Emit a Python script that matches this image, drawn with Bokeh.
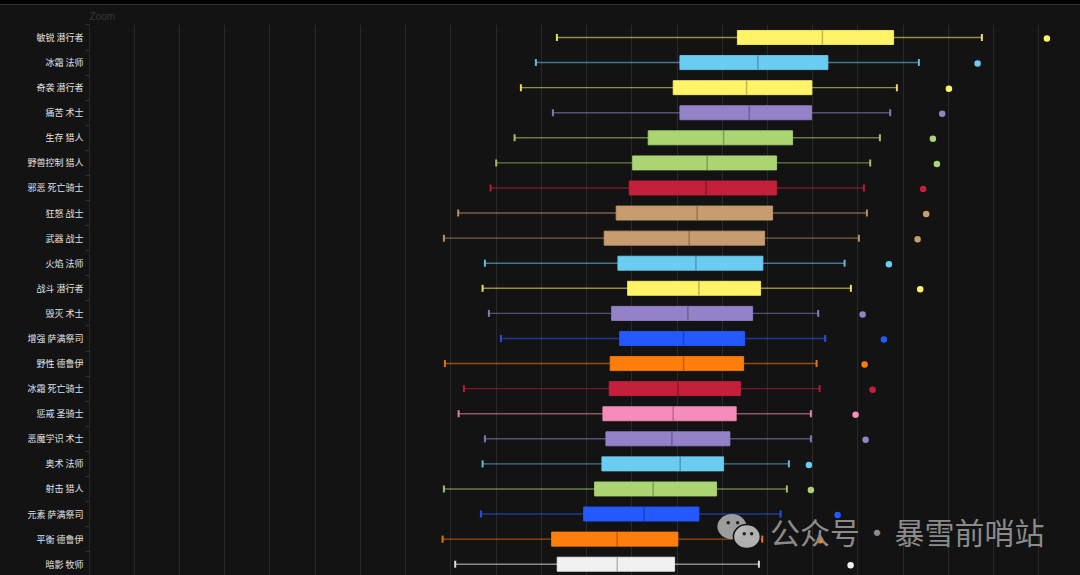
from bokeh.embed import file_html
from bokeh.resources import INLINE
from bokeh.plotting import figure
from bokeh.models import ColumnDataSource, FixedTicker, Label, Range1d
import numpy as np

specs = ["敏锐 潜行者", "冰霜 法师", "奇袭 潜行者", "痛苦 术士", "生存 猎人", "野兽控制 猎人", "邪恶 死亡骑士", "狂怒 战士",
         "武器 战士", "火焰 法师", "战斗 潜行者", "毁灭 术士", "增强 萨满祭司", "野性 德鲁伊", "冰霜 死亡骑士", "惩戒 圣骑士",
         "恶魔学识 术士", "奥术 法师", "射击 猎人", "元素 萨满祭司", "平衡 德鲁伊", "暗影 牧师"]
low = [468, 447, 432, 464, 425.7, 407.3, 401.7, 369.3, 355, 396, 393.7, 400, 412, 356, 375, 369.7, 396, 393.7, 355, 392, 353.7, 366.3]
q1 = [648.5, 591, 584.3, 591, 559.3, 543.7, 540.3, 527.3, 515.3, 529, 538.7, 522.7, 530.7, 521.3, 520.3, 514, 517, 513, 505.7, 494.7, 462.7, 468.3]
median = [733.5, 669, 657.7, 660.3, 634.7, 618.3, 617.3, 608.3, 600.3, 607, 610, 599, 594.7, 594.7, 589, 584.3, 583, 591.3, 564.3, 555.3, 528.3, 528.3]
q3 = [804.7, 739, 723, 722.7, 703.7, 687.7, 687.7, 683.7, 675.7, 674, 671.7, 663.7, 655.7, 654.7, 651.7, 647.3, 641, 634.7, 627.7, 610, 589, 585.7]
high = [893, 830, 808, 801.3, 791, 781.3, 775, 778, 770, 755.7, 762, 729.3, 736.3, 727.7, 730.7, 722, 722, 700, 698, 691.7, 673.3, 670]
outlier = [958, 888.7, 860, 853.3, 844, 848, 834.3, 837.3, 828.7, 800, 831.3, 773.7, 795, 775.7, 783.7, 766.7, 776.7, 720, 722, 748.7, 731.3, 761.7]
colors = ["#FFF468", "#69CCF0", "#FFF468", "#9482C9", "#ABD473", "#ABD473", "#C41F3B", "#C79C6E", "#C79C6E", "#69CCF0", "#FFF468",
          "#9482C9", "#2459FF", "#FF7D0A", "#C41F3B", "#F58CBA", "#9482C9", "#69CCF0", "#ABD473", "#2459FF", "#FF7D0A", "#F0F0F0"]
tick_step = 45.24
n_gridlines = 22
icon_bubble_x = [643, 658]
icon_bubble_y = [19.5, 19.9]
icon_eye_x = [639.3, 648.7, 655.3, 662.7]
icon_eye_y = [19.35, 19.35, 19.79, 19.79]

rows = np.arange(len(specs), dtype=float)
src = ColumnDataSource(dict(row=rows, low=low, q1=q1, median=median, q3=q3, high=high, outlier=outlier, color=colors,
                            cap0=rows - 0.14, cap1=rows + 0.14, box0=rows - 0.28, box1=rows + 0.28, dot=rows + 0.04))

p = figure(width=1080, height=575, output_backend="svg", toolbar_location=None, title="Zoom",
           x_range=Range1d(0.6, 991.6), y_range=Range1d(21.45, -0.518),
           min_border_left=89, min_border_right=0, min_border_top=24, min_border_bottom=0,
           background_fill_color="#131313", border_fill_color=None, outline_line_color=None)
p.outline_line_alpha = 0
p.outline_line_width = 0
p.styles = {"position": "fixed", "left": "0", "top": "0",
            "background": "linear-gradient(#000000 0 4px, #333333 4px 5px, #131313 5px)"}
p.title.text_font = "Liberation Sans"
p.title.text_font_size = "10px"
p.title.text_font_style = "normal"
p.title.text_color = "#363636"
p.title.standoff = 5

p.xaxis.visible = False
p.xgrid.ticker = FixedTicker(ticks=[tick_step * k for k in range(n_gridlines)])
p.xgrid.grid_line_color = "#292929"
p.xgrid.grid_line_width = 1
p.ygrid.visible = False

ax = p.yaxis[0]
ax.ticker = FixedTicker(ticks=list(rows), minor_ticks=list(rows - 0.5) + [rows[-1] + 0.5])
ax.major_label_overrides = {float(i): s for i, s in enumerate(specs)}
ax.major_tick_line_color = None
ax.major_tick_out = 0
ax.major_tick_in = 0
ax.minor_tick_line_color = "#303030"
ax.minor_tick_out = 4
ax.minor_tick_in = 0
ax.axis_line_color = "#292929"
ax.major_label_standoff = 2
ax.major_label_text_color = "#e2e2e2"
ax.major_label_text_font = "Noto Sans CJK SC"
ax.major_label_text_font_size = "9px"

p.segment(x0="low", x1="q1", y0="row", y1="row", source=src, line_color="color", line_alpha=0.55, line_width=1.4)
p.segment(x0="q3", x1="high", y0="row", y1="row", source=src, line_color="color", line_alpha=0.55, line_width=1.4)
p.segment(x0="low", x1="low", y0="cap0", y1="cap1", source=src, line_color="color", line_alpha=0.9, line_width=2)
p.segment(x0="high", x1="high", y0="cap0", y1="cap1", source=src, line_color="color", line_alpha=0.9, line_width=2)
p.quad(left="q1", right="q3", bottom="box0", top="box1", source=src, fill_color="color", line_color="color", line_alpha=0.85, line_width=1)
p.segment(x0="median", x1="median", y0="box0", y1="box1", source=src, line_color="#000000", line_alpha=0.25, line_width=1.5)
p.scatter(x="outlier", y="dot", source=src, size=6.5, fill_color="color", line_color=None)

# watermark
p.ellipse(x=icon_bubble_x[:1], y=icon_bubble_y[:1], width=29, height=25, width_units="screen", height_units="screen",
          fill_color="#a8a8a8", fill_alpha=0.92, line_color=None)
p.ellipse(x=icon_bubble_x[1:], y=icon_bubble_y[1:], width=27, height=24, width_units="screen", height_units="screen",
          fill_color="#b8b8b8", fill_alpha=0.95, line_color="#131313", line_width=1.5)
p.scatter(x=icon_eye_x, y=icon_eye_y, size=3.5, fill_color="#222222", line_color=None)
for text, xpos, align in [("公众号", 681, "left"), ("·", 788, "center"), ("暴雪前哨站", 805.5, "left")]:
    p.add_layout(Label(x=xpos, y=19.66, x_units="data", y_units="data", text=text, text_font="Noto Sans CJK SC",
                       text_font_size="30px", text_color="#8b8b8b", text_baseline="middle", text_align=align))

open("out.html", "w").write(file_html(p, INLINE))
